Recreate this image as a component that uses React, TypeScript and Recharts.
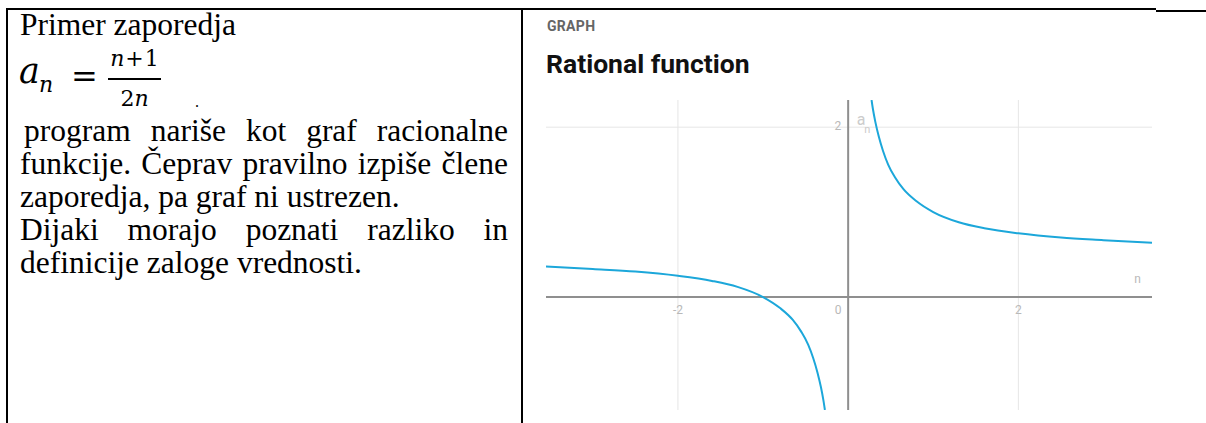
import { LineChart, Line, XAxis, YAxis, ReferenceLine, ReferenceDot } from "recharts";

// values: a_n = (n+1)/(2n) drawn as a curve
const lowerX = [-3.55, -3.0, -2.5, -2.0, -1.6, -1.3, -1.0, -0.8, -0.65, -0.55, -0.47, -0.41, -0.36, -0.32, -0.29, -0.273];
const lowerY = [0.36, 0.33, 0.3, 0.25, 0.19, 0.12, 0.0, -0.13, -0.27, -0.41, -0.56, -0.72, -0.89, -1.06, -1.22, -1.33];
const upperX = [0.275, 0.29, 0.32, 0.36, 0.41, 0.47, 0.55, 0.65, 0.8, 1.0, 1.3, 1.6, 2.0, 2.5, 3.0, 3.57];
const upperY = [2.32, 2.22, 2.06, 1.89, 1.72, 1.56, 1.41, 1.27, 1.13, 1.0, 0.88, 0.81, 0.75, 0.7, 0.67, 0.64];

const xTicks = [-2, 0, 2];
const yTicks = [2];
const gridX = [-2, 2];

const rows = [
  ...lowerX.map((x, i) => ({ x, lower: lowerY[i] })),
  ...upperX.map((x, i) => ({ x, upper: upperY[i] })),
];

const CURVE = "#1ca7da";
const AXIS = "#8f8f8f";
const GRID = "#e6e6e6";
const TICK = "#b9b9b9";

const textLabel = (text: string, dx: number, dy: number, anchor: string) => (props: any) => {
  const vb = props.viewBox || {};
  const cx = (vb.x || 0) + (vb.width || 0) / 2;
  const cy = (vb.y || 0) + (vb.height || 0) / 2;
  return (
    <text
      x={cx + dx}
      y={cy + dy}
      textAnchor={anchor}
      dominantBaseline="middle"
      fill={TICK}
      fontSize={12}
      fontFamily="Roboto, sans-serif"
    >
      {text}
    </text>
  );
};

const anLabel = (props: any) => {
  const vb = props.viewBox || {};
  return (
    <text x={vb.x || 0} y={vb.y || 0} fill="#cccccc" fontSize={16} fontFamily="Roboto, sans-serif">
      a
      <tspan dx={-1} dy={8} fontSize={11}>n</tspan>
    </text>
  );
};

const serif = "'Liberation Serif', 'Times New Roman', serif";
const math = "'DejaVu Serif', serif";

const lineStyle = (top: number, justify: boolean, pad = 0): React.CSSProperties => ({
  position: "absolute",
  left: 20,
  top,
  width: 488 - pad,
  paddingLeft: pad,
  fontSize: 31.5,
  lineHeight: "33px",
  fontFamily: serif,
  color: "#000",
  whiteSpace: "nowrap",
  textAlign: justify ? "justify" : "left",
  textAlignLast: justify ? "justify" : "left",
} as any);

export default function App() {
  return (
    <div style={{ position: "fixed", left: 0, top: 0, width: 1206, height: 423, background: "#fff", overflow: "hidden" }}>
      {/* table borders */}
      <div style={{ position: "absolute", left: 6, top: 8, width: 1150, height: 2, background: "#000" }} />
      <div style={{ position: "absolute", left: 1156, top: 10, width: 50, height: 2, background: "#000" }} />
      <div style={{ position: "absolute", left: 6, top: 8, width: 2, height: 415, background: "#000" }} />
      <div style={{ position: "absolute", left: 521, top: 8, width: 2, height: 415, background: "#000" }} />

      {/* left cell */}
      <div style={lineStyle(8, false)}>Primer zaporedja</div>
      <div style={{ position: "absolute", left: 19, top: 54, fontFamily: math, fontStyle: "italic", fontSize: 35, lineHeight: "35px" }}>
        a
      </div>
      <div style={{ position: "absolute", left: 39, top: 74, fontFamily: math, fontStyle: "italic", fontSize: 22, lineHeight: "22px" }}>
        n
      </div>
      <div style={{ position: "absolute", left: 71, top: 60, fontFamily: math, fontSize: 32, lineHeight: "32px" }}>=</div>
      <div style={{ position: "absolute", left: 108, top: 78, width: 53, height: 2, background: "#000" }} />
      <div style={{ position: "absolute", left: 106, top: 48, width: 57, textAlign: "center", fontFamily: math, fontSize: 22, lineHeight: "22px", whiteSpace: "nowrap" }}>
        <i>n</i>
        <span style={{ margin: "0 1px" }}>+</span>1
      </div>
      <div style={{ position: "absolute", left: 106, top: 88, width: 57, textAlign: "center", fontFamily: math, fontSize: 22, lineHeight: "22px", whiteSpace: "nowrap" }}>
        2<i>n</i>
      </div>
      <div style={{ position: "absolute", left: 195, top: 97, fontFamily: serif, fontSize: 16, lineHeight: "10px" }}>.</div>
      <div style={lineStyle(114, true, 4)}>program nariše kot graf racionalne</div>
      <div style={lineStyle(147, true)}>funkcije. Čeprav pravilno izpiše člene</div>
      <div style={lineStyle(180, false)}>zaporedja, pa graf ni ustrezen.</div>
      <div style={lineStyle(213, true)}>Dijaki morajo poznati razliko in</div>
      <div style={lineStyle(246, false)}>definicije zaloge vrednosti.</div>

      {/* right cell */}
      <div style={{ position: "absolute", left: 547, top: 19, fontFamily: "Roboto, sans-serif", fontWeight: 700, fontSize: 14, lineHeight: "14px", letterSpacing: 0.3, color: "#666" }}>
        GRAPH
      </div>
      <div style={{ position: "absolute", left: 546, top: 51, fontFamily: "Roboto, sans-serif", fontWeight: 700, fontSize: 26.5, lineHeight: "26px", color: "#111" }}>
        Rational function
      </div>

      <div style={{ position: "absolute", left: 546, top: 100 }}>
        <LineChart width={606} height={310} data={rows} margin={{ top: 0, right: 0, bottom: 0, left: 0 }}>
          <XAxis type="number" dataKey="x" domain={[-3.55, 3.57]} allowDataOverflow hide />
          <YAxis type="number" domain={[-1.33, 2.32]} allowDataOverflow hide />
          {gridX.map((v) => (
            <ReferenceLine key={"gx" + v} x={v} stroke={GRID} strokeWidth={1} />
          ))}
          {yTicks.map((v) => (
            <ReferenceLine key={"gy" + v} y={v} stroke={GRID} strokeWidth={1} />
          ))}
          <ReferenceLine y={0} stroke={AXIS} strokeWidth={2} />
          <ReferenceLine x={0} stroke={AXIS} strokeWidth={2} />
          {xTicks.map((v) => (
            <ReferenceDot
              key={"xt" + v}
              x={v}
              y={0}
              r={0}
              fill="none"
              stroke="none"
              label={v === 0 ? textLabel(String(v), -10, 14, "middle") : textLabel(String(v), 0, 14, "middle")}
            />
          ))}
          {yTicks.map((v) => (
            <ReferenceDot key={"yt" + v} x={0} y={v} r={0} fill="none" stroke="none" label={textLabel(String(v), -7, 0, "end")} />
          ))}
          <ReferenceDot x={0.1} y={2.03} r={0} fill="none" stroke="none" label={anLabel} />
          <ReferenceDot x={3.4} y={0.2} r={0} fill="none" stroke="none" label={textLabel("n", 0, 0, "middle")} />
          <Line type="monotone" dataKey="lower" stroke={CURVE} strokeWidth={2} dot={false} isAnimationActive={false} />
          <Line type="monotone" dataKey="upper" stroke={CURVE} strokeWidth={2} dot={false} isAnimationActive={false} />
        </LineChart>
      </div>
    </div>
  );
}
